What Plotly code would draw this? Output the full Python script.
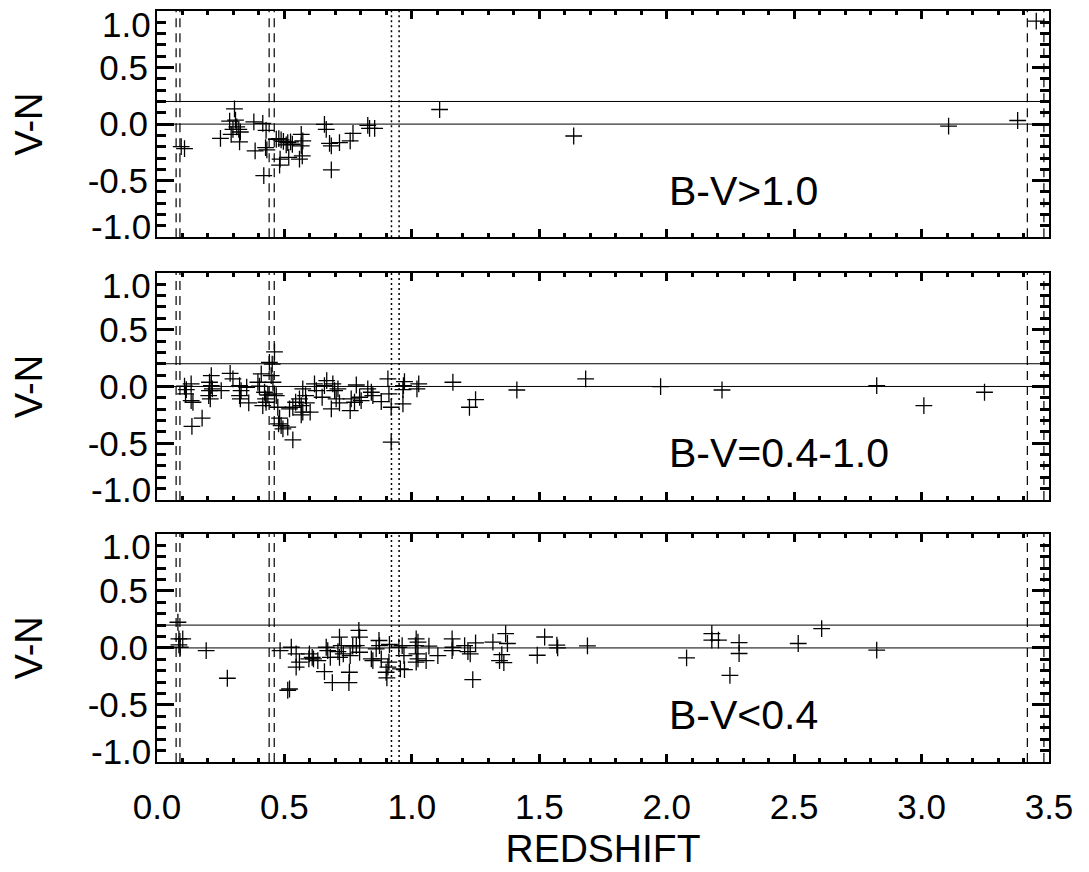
import plotly.graph_objects as go

# ---------------- data ----------------
# Panel 1: B-V > 1.0
z_red = [0.095, 0.108, 0.249, 0.304, 0.285, 0.308, 0.313, 0.321, 0.327, 0.291,
         0.324, 0.298, 0.380, 0.415, 0.428, 0.385, 0.426, 0.431, 0.419, 0.468,
         0.478, 0.487, 0.496, 0.513, 0.524, 0.531, 0.507, 0.483, 0.481, 0.517,
         0.566, 0.572, 0.566, 0.570, 0.559, 0.657, 0.664, 0.677, 0.684, 0.716,
         0.684, 0.758, 0.769, 0.827, 0.834, 0.854, 1.109, 1.635, 3.106, 3.377,
         3.450]
vn_red = [-0.199, -0.217, -0.126, 0.134, 0.026, 0.035, -0.024, -0.047, -0.070, -0.090,
          -0.158, -0.047, 0.020, 0.006, -0.056, -0.237, -0.208, -0.228, -0.456, -0.134,
          -0.129, -0.140, -0.152, -0.164, -0.158, -0.178, -0.184, -0.310, -0.362, -0.295,
          -0.090, -0.149, -0.193, -0.281, -0.310, -0.003, -0.047, -0.170, -0.193, -0.164,
          -0.404, -0.149, -0.082, -0.012, -0.038, -0.038, 0.129, -0.105, -0.018, 0.032,
          0.910]

# Panel 2: B-V = 0.4-1.0
z_mid = [0.108, 0.115, 0.134, 0.112, 0.134, 0.141, 0.137, 0.177, 0.213, 0.206,
         0.213, 0.206, 0.217, 0.203, 0.209, 0.252, 0.287, 0.298, 0.324, 0.330,
         0.324, 0.327, 0.352, 0.360, 0.396, 0.409, 0.402, 0.422, 0.426, 0.428,
         0.415, 0.435, 0.448, 0.461, 0.441, 0.452, 0.455, 0.461, 0.468, 0.474,
         0.481, 0.477, 0.487, 0.494, 0.513, 0.520, 0.533, 0.544, 0.559, 0.566,
         0.572, 0.566, 0.583, 0.572, 0.601, 0.586, 0.618, 0.625, 0.648, 0.657,
         0.666, 0.690, 0.697, 0.710, 0.684, 0.703, 0.716, 0.758, 0.762, 0.775,
         0.782, 0.795, 0.801, 0.827, 0.841, 0.847, 0.880, 0.906, 0.910, 0.919,
         0.965, 0.971, 0.967, 0.965, 1.020, 1.027, 1.161, 1.226, 1.250, 0.919,
         0.533, 1.412, 1.682, 1.976, 2.217, 2.824, 3.009, 3.247]
vn_mid = [0.002, -0.028, 0.022, -0.066, -0.124, -0.139, -0.352, -0.279, 0.095, 0.037,
          0.007, -0.037, -0.022, -0.080, -0.110, -0.037, 0.116, 0.066, 0.007, -0.037,
          -0.080, -0.110, -0.007, -0.145, 0.037, 0.110, 0.002, -0.051, -0.110, -0.139,
          -0.168, -0.075, 0.095, 0.305, 0.212, 0.197, 0.037, -0.066, -0.080, -0.183,
          -0.279, -0.329, -0.344, -0.373, -0.358, -0.197, -0.183, -0.139, -0.110, -0.168,
          -0.226, -0.250, -0.080, -0.022, -0.226, -0.145, 0.022, -0.037, -0.095, 0.007,
          0.051, 0.022, -0.037, -0.022, -0.197, -0.110, -0.145, -0.212, -0.110, -0.139,
          0.013, -0.095, -0.124, -0.022, -0.051, -0.080, -0.133, 0.066, -0.066, -0.183,
          -0.154, 0.042, 0.007, -0.028, -0.022, 0.022, 0.037, -0.183, -0.116, -0.490,
          -0.470, -0.031, 0.066, -0.001, -0.031, 0.007, -0.168, -0.051]

# Panel 3: B-V < 0.4
z_blue = [0.082, 0.086, 0.101, 0.086, 0.091, 0.193, 0.276, 0.483, 0.527, 0.546,
          0.559, 0.546, 0.598, 0.609, 0.614, 0.596, 0.631, 0.664, 0.670, 0.680,
          0.716, 0.723, 0.710, 0.716, 0.731, 0.657, 0.755, 0.758, 0.768, 0.792,
          0.795, 0.782, 0.795, 0.841, 0.847, 0.860, 0.871, 0.873, 0.880, 0.912,
          0.910, 0.906, 0.899, 0.949, 0.962, 0.969, 0.955, 0.971, 1.017, 1.024,
          1.014, 1.020, 1.024, 1.017, 1.056, 1.067, 1.102, 1.158, 1.161, 1.158,
          1.207, 1.220, 1.229, 1.250, 1.239, 1.318, 1.344, 0.513, 0.520, 0.753,
          0.688, 0.902, 1.368, 1.375, 1.353, 1.361, 1.492, 1.521, 1.569, 1.572,
          1.689, 2.078, 2.177, 2.177, 2.203, 2.284, 2.284, 2.248, 2.516, 2.608,
          2.824]
vn_blue = [0.225, 0.079, 0.079, 0.026, 0.006, -0.023, -0.266, -0.023, 0.006, -0.053,
           -0.125, -0.169, -0.053, -0.082, -0.096, -0.096, -0.111, 0.006, -0.023, -0.082,
           0.094, 0.021, -0.032, -0.082, -0.053, -0.207, -0.213, -0.067, 0.015, 0.153,
           0.094, 0.021, -0.038, -0.096, -0.111, -0.009, 0.065, 0.021, -0.096, 0.030,
           -0.125, -0.169, -0.213, 0.006, 0.021, -0.067, -0.184, -0.190, 0.079, 0.050,
           0.021, -0.053, -0.096, -0.125, -0.111, 0.015, -0.067, 0.079, 0.006, -0.023,
           0.021, -0.032, -0.053, 0.044, -0.277, 0.050, -0.111, -0.371, -0.360, -0.304,
           -0.304, -0.263, 0.126, 0.039, -0.058, -0.128, -0.064, 0.096, 0.024, 0.000,
           0.018, -0.088, 0.126, 0.068, 0.068, 0.047, -0.049, -0.240, 0.039, 0.170,
           -0.020]

panel_labels = ["B-V>1.0", "B-V=0.4-1.0", "B-V<0.4"]

# reference lines
h_lines = [0.0, 0.2]
dashed_z = [0.075, 0.090, 0.440, 0.460, 3.415, 3.480]
dotted_z = [0.920, 0.950]

x_range = [0.0, 3.5]
y_range = [-1.0, 1.0]
y_tick_vals = [-0.5, 0.0, 0.5]
y_tick_text = ["-0.5", "0.0", "0.5"]
y_end_text = ["1.0", "-1.0"]

# ---------------- figure ----------------
FONT = "Liberation Sans, Arial, Helvetica, sans-serif"
TICK_SIZE = 35
domains = [[0.6988, 1.0], [0.3488, 0.6513], [0.0, 0.3038]]
series = [(z_red, vn_red), (z_mid, vn_mid), (z_blue, vn_blue)]

fig = go.Figure()
for i, (zs, vs) in enumerate(series):
    sfx = "" if i == 0 else str(i + 1)
    fig.add_trace(go.Scatter(
        x=zs, y=vs, mode="markers", xaxis="x" + sfx, yaxis="y" + sfx,
        marker=dict(symbol="cross-thin", size=12, color="black",
                    line=dict(width=1.3, color="black")),
        showlegend=False, hoverinfo="x+y"))

layout = dict(
    width=1089, height=872,
    margin=dict(l=157, r=40, t=9, b=106),
    paper_bgcolor="white", plot_bgcolor="white",
    font=dict(family=FONT, color="black", size=TICK_SIZE),
    showlegend=False,
)
shapes = []
annotations = []
for i in range(3):
    sfx = "" if i == 0 else str(i + 1)
    xa = dict(
        domain=[0, 1], anchor="y" + sfx, range=x_range,
        tickmode="linear", tick0=0, dtick=0.5, tickformat=".1f",
        showticklabels=(i == 2),
        ticks="inside", ticklen=8, tickwidth=2.5, tickcolor="black",
        showline=True, linewidth=2, linecolor="black", mirror="ticks",
        showgrid=False, zeroline=False,
        minor=dict(ticks="inside", dtick=0.1, tick0=0, ticklen=4, tickwidth=2.5,
                   tickcolor="black", showgrid=False),
        tickfont=dict(family=FONT, size=TICK_SIZE, color="black"),
        ticklabelstandoff=13,
    )
    if i == 2:
        xa["title"] = dict(text="REDSHIFT", font=dict(family=FONT, size=39, color="black"),
                           standoff=10)
    ya = dict(
        domain=domains[i], anchor="x" + sfx, range=y_range,
        tickmode="array", tickvals=y_tick_vals, ticktext=y_tick_text,
        ticks="inside", ticklen=17, tickwidth=2.5, tickcolor="black",
        showline=True, linewidth=2, linecolor="black", mirror="ticks",
        showgrid=False, zeroline=False,
        minor=dict(ticks="inside", dtick=0.1, tick0=0, ticklen=9, tickwidth=2.5,
                   tickcolor="black", showgrid=False),
        tickfont=dict(family=FONT, size=TICK_SIZE, color="black"),
        title=dict(text="V-N", font=dict(family=FONT, size=38, color="black"), standoff=33),
    )
    layout["xaxis" + sfx] = xa
    layout["yaxis" + sfx] = ya

    xref = "x" + sfx
    yref = "y" + sfx
    for h in h_lines:
        shapes.append(dict(type="line", xref=xref + " domain", yref=yref,
                           x0=0, x1=1, y0=h, y1=h,
                           line=dict(color="black", width=1), layer="above"))
    for v in dashed_z:
        shapes.append(dict(type="line", xref=xref, yref=yref + " domain",
                           x0=v, x1=v, y0=0, y1=1,
                           line=dict(color="black", width=1.2, dash="9px,6px"),
                           layer="above"))
    for v in dotted_z:
        shapes.append(dict(type="line", xref=xref, yref=yref + " domain",
                           x0=v, x1=v, y0=0, y1=1,
                           line=dict(color="black", width=1.5, dash="2px,3px"),
                           layer="above"))
    # end labels of the y axis, kept inside the axis span as in the original
    annotations.append(dict(text=y_end_text[0], xref="paper", x=0, xanchor="right",
                            xshift=-4, yref=yref + " domain", y=1, yanchor="middle",
                            yshift=-13, showarrow=False,
                            font=dict(family=FONT, size=TICK_SIZE, color="black")))
    annotations.append(dict(text=y_end_text[1], xref="paper", x=0, xanchor="right",
                            xshift=-4, yref=yref + " domain", y=0, yanchor="middle",
                            yshift=11, showarrow=False,
                            font=dict(family=FONT, size=TICK_SIZE, color="black")))
    annotations.append(dict(text=panel_labels[i], xref=xref, x=2.0, xanchor="left",
                            yref=yref, y=-0.59, yanchor="middle", showarrow=False,
                            font=dict(family=FONT, size=41, color="black")))

layout["shapes"] = shapes
layout["annotations"] = annotations
fig.update_layout(**layout)
fig.write_html("out.html")
